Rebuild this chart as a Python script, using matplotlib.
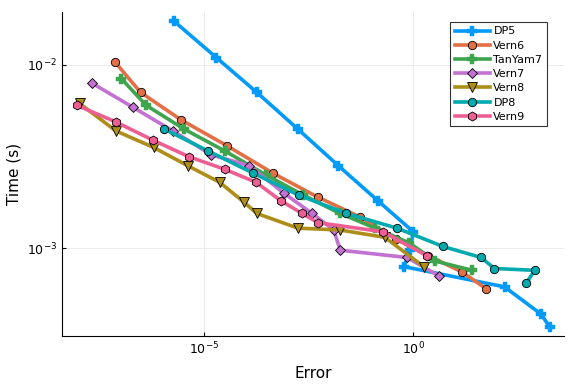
import numpy as np
import matplotlib
matplotlib.use("Agg")
import matplotlib.pyplot as plt

# log10 values
dp5_err = 10.0 ** np.array([-5.73, -4.71, -3.74, -2.76, -1.79, -0.85, 0.00, -0.08, -0.22, 2.18, 3.06, 3.26])
dp5_time = 10.0 ** np.array([-1.76, -1.96, -2.15, -2.35, -2.55, -2.74, -2.91, -3.01, -3.10, -3.21, -3.36, -3.43])

vern6_err = 10.0 ** np.array([-7.13, -6.52, -5.55, -4.46, -3.36, -2.29, -1.27, -0.41, 0.36, 1.17, 1.74])
vern6_time = 10.0 ** np.array([-1.985, -2.15, -2.30, -2.44, -2.59, -2.72, -2.83, -2.95, -3.04, -3.13, -3.22])

tanyam7_err = 10.0 ** np.array([-6.98, -6.39, -5.48, -4.50, -3.52, -2.63, -1.75, -0.91, -0.10, 0.53, 1.41])
tanyam7_time = 10.0 ** np.array([-2.075, -2.22, -2.35, -2.47, -2.60, -2.71, -2.81, -2.89, -2.97, -3.07, -3.12])

vern7_err = 10.0 ** np.array([-7.68, -6.71, -5.75, -4.83, -3.92, -3.09, -2.42, -1.90, -1.75, -0.15, 0.61])
vern7_time = 10.0 ** np.array([-2.10, -2.23, -2.36, -2.49, -2.55, -2.70, -2.81, -2.90, -3.01, -3.05, -3.15])

vern8_err = 10.0 ** np.array([-7.98, -7.11, -6.21, -5.39, -4.63, -4.04, -3.74, -2.76, -1.76, -0.68, 0.25])
vern8_time = 10.0 ** np.array([-2.21, -2.36, -2.45, -2.55, -2.64, -2.75, -2.81, -2.89, -2.90, -2.94, -3.10])

dp8_err = 10.0 ** np.array([-5.95, -4.90, -3.83, -2.74, -1.60, -0.39, 0.71, 1.62, 1.94, 2.90, 2.70])
dp8_time = 10.0 ** np.array([-2.35, -2.47, -2.59, -2.71, -2.81, -2.89, -2.99, -3.05, -3.11, -3.12, -3.19])

vern9_err = 10.0 ** np.array([-8.05, -7.12, -6.23, -5.37, -4.50, -3.76, -3.17, -2.66, -2.28, -0.72, 0.32])
vern9_time = 10.0 ** np.array([-2.22, -2.31, -2.41, -2.50, -2.57, -2.64, -2.74, -2.81, -2.86, -2.91, -3.04])

labels = ["DP5", "Vern6", "TanYam7", "Vern7", "Vern8", "DP8", "Vern9"]
series = [(dp5_err, dp5_time), (vern6_err, vern6_time), (tanyam7_err, tanyam7_time),
          (vern7_err, vern7_time), (vern8_err, vern8_time), (dp8_err, dp8_time),
          (vern9_err, vern9_time)]
colors = ["#009AFA", "#E36F47", "#3EA44E", "#C371D2", "#AC8E18", "#00AAAE", "#ED5E93"]
markers = ["P", "o", "P", "D", "v", "o", "h"]
msizes = [6.5, 6, 6.5, 5, 6.5, 6, 6.5]

fig = plt.figure(figsize=(5.76, 3.84), dpi=100)
ax = fig.add_axes([0.1076, 0.125, 0.979 - 0.1076, 0.969 - 0.125])

for (x, y), lab, c, m, ms in zip(series, labels, colors, markers, msizes):
    cross = m == "P"
    ax.plot(x, y, color=c, lw=2.6, marker=m, ms=ms,
            markerfacecolor=c, markeredgecolor=(c if cross else "black"),
            markeredgewidth=(0.3 if cross else 0.6), label=lab)

ax.set_xscale("log")
ax.set_yscale("log")
ax.set_xlim(10 ** -8.40, 10 ** 3.60)
ax.set_ylim(10 ** -3.478, 10 ** -1.711)
ax.set_xticks([1e-5, 1e0])
ax.set_yticks([1e-3, 1e-2])
ax.xaxis.set_minor_locator(matplotlib.ticker.NullLocator())
ax.yaxis.set_minor_locator(matplotlib.ticker.NullLocator())
ax.tick_params(direction="in", length=3, width=0.8, labelsize=9, colors="black")
ax.grid(True, color="#e8e8e8", lw=0.6)
ax.set_axisbelow(True)
for s in ["top", "right"]:
    ax.spines[s].set_visible(False)
for s in ["left", "bottom"]:
    ax.spines[s].set_linewidth(0.8)
ax.set_xlabel("Error", fontsize=11, labelpad=6)
ax.set_ylabel("Time (s)", fontsize=11, labelpad=4)

leg = ax.legend(loc="upper right", bbox_to_anchor=(0.966, 0.969), fontsize=8,
                frameon=True, fancybox=False, edgecolor="black",
                handlelength=3.2, handletextpad=0.3, borderpad=0.4,
                labelspacing=0.38, borderaxespad=0.0)
leg.get_frame().set_linewidth(0.8)

fig.savefig("out.png", dpi=100)
